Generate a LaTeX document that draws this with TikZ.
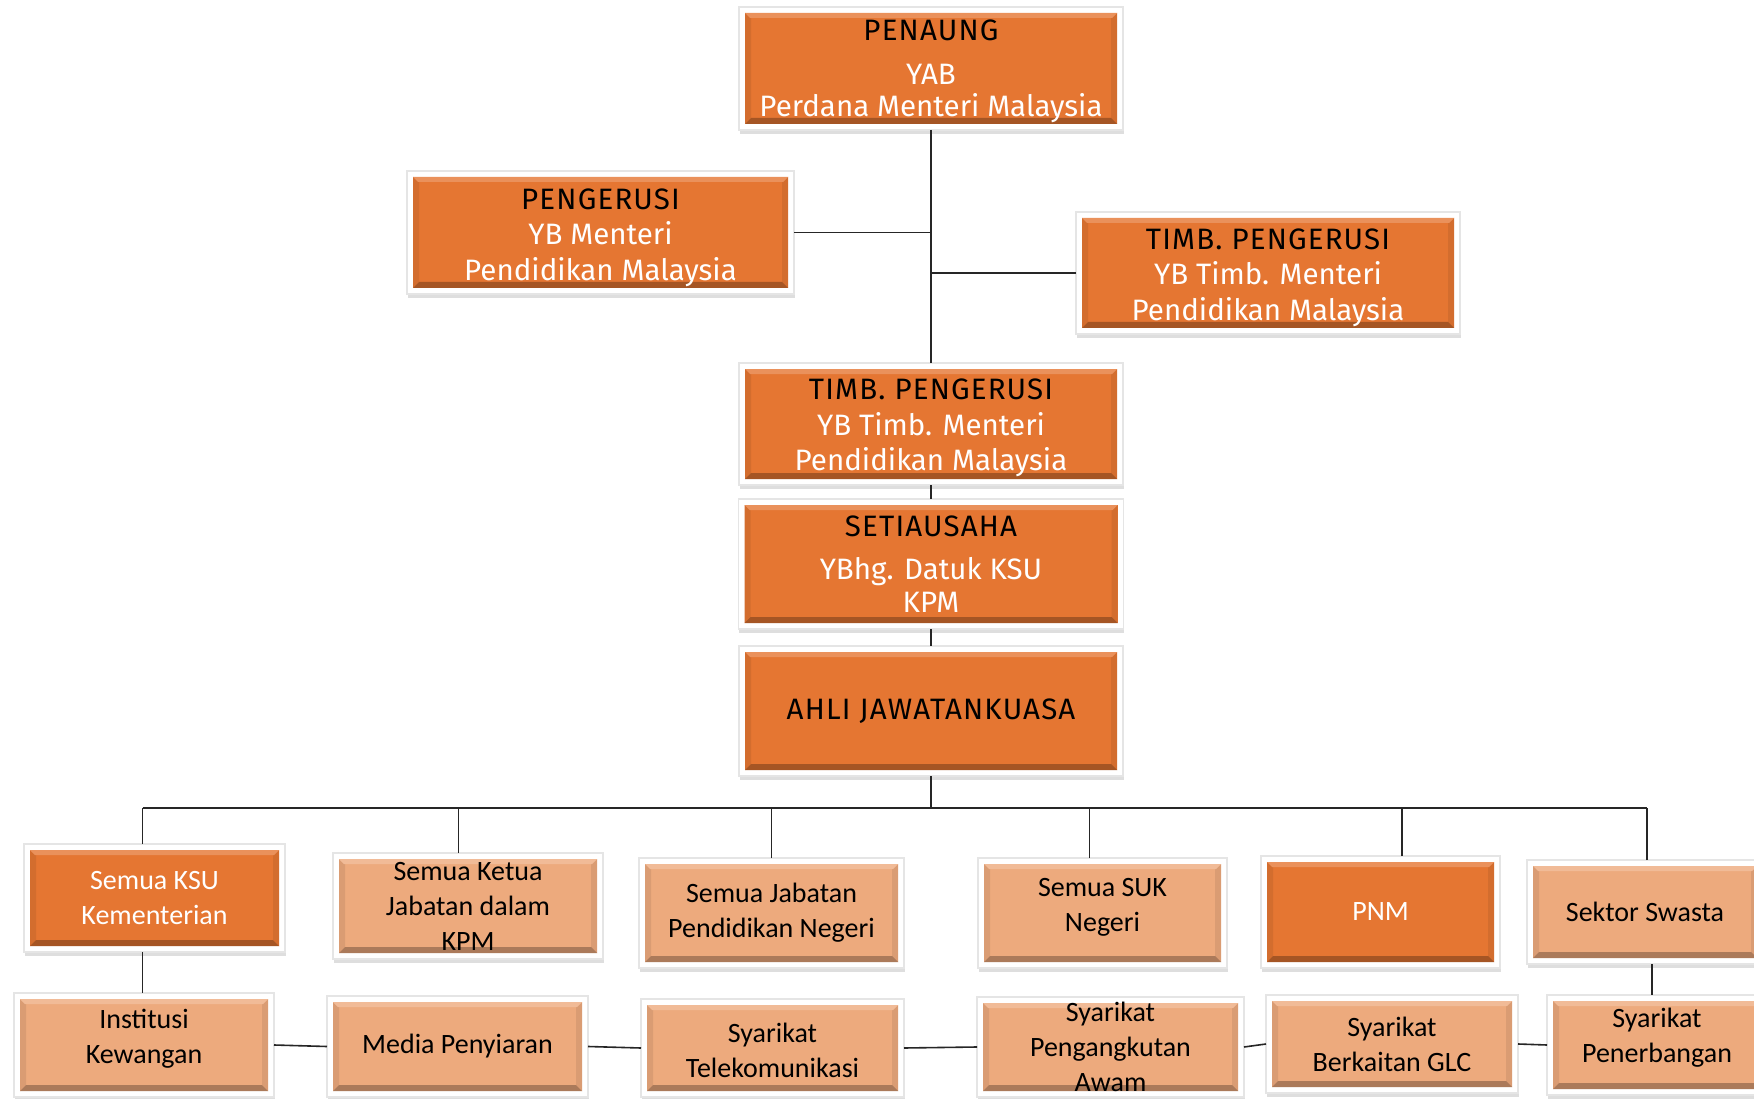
\documentclass[tikz,border=0pt]{standalone}
\usepackage{fontspec}
\newfontfamily\dinfont{Fira Sans}
\newfontfamily\dincaps[LetterSpace=4]{Fira Sans}
\newfontfamily\calfont{Carlito}
\usetikzlibrary{shadows,calc}
\definecolor{dk}{HTML}{E57632}
\definecolor{lt}{HTML}{EDAA7D}
\tikzset{
  boxcol/.code={\colorlet{bxc}{#1}},
  box/.style={rectangle, inner sep=0pt, outer sep=0pt, fill=white, draw=black!10, line width=1.2pt,
    drop shadow={shadow xshift=0.5pt, shadow yshift=-4pt, opacity=0.18, fill=black!70},
    path picture={
      \coordinate (iSW) at ([shift={(6pt,6pt)}]path picture bounding box.south west);
      \coordinate (iNE) at ([shift={(-6pt,-6pt)}]path picture bounding box.north east);
      \coordinate (iNW) at (iSW|-iNE);
      \coordinate (iSE) at (iNE|-iSW);
      \fill[bxc] (iSW) rectangle (iNE);
      \fill[bxc!92!black] (iSW) -- ([shift={(6pt,6pt)}]iSW) -- ([shift={(6pt,-5pt)}]iNW) -- (iNW) -- cycle;
      \fill[bxc!92!black] (iSE) -- ([shift={(-6pt,6pt)}]iSE) -- ([shift={(-6pt,-5pt)}]iNE) -- (iNE) -- cycle;
      \fill[bxc!72!black] (iSW) -- (iSE) -- ([shift={(-6pt,6pt)}]iSE) -- ([shift={(6pt,6pt)}]iSW) -- cycle;
      \fill[bxc!80!white] (iNW) -- (iNE) -- ([shift={(-5pt,-5pt)}]iNE) -- ([shift={(5pt,-5pt)}]iNW) -- cycle;
    }},
  dkbox/.style={box, boxcol=dk},
  ltbox/.style={box, boxcol=lt},
  toptxt/.style={align=center, inner sep=0pt, text=white, font=\dinfont\fontsize{29.5}{35.5}\selectfont},
  bottxt/.style={align=center, inner sep=0pt, text=black, font=\calfont\fontsize{28}{35}\selectfont},
  conn/.style={draw=black!85, line width=1.6pt},
}
\newcommand\ttl[1]{\textcolor{black}{\dincaps #1}}
\begin{document}
\begin{tikzpicture}[x=1pt,y=-1pt]
\useasboundingbox[fill=white] (0,0) rectangle (1754,1099);

% top column
\node[dkbox, minimum width=384pt, minimum height=123pt] (penaung) at (931,68.5) {};
\node[dkbox, minimum width=387pt, minimum height=123pt] (peng) at (600.5,232.5) {};
\node[dkbox, minimum width=384pt, minimum height=122pt] (timbr) at (1268,273) {};
\node[dkbox, minimum width=384pt, minimum height=122pt] (timbc) at (931,424) {};
\node[dkbox, minimum width=385pt, minimum height=130pt] (setia) at (931,564) {};
\node[dkbox, minimum width=384pt, minimum height=130pt] (ahli) at (931,711) {};

% row 1
\node[dkbox, minimum width=261pt, minimum height=108pt] (ksu) at (154.5,898) {};
\node[ltbox, minimum width=270pt, minimum height=106pt] (ketua) at (468,906) {};
\node[ltbox, minimum width=265pt, minimum height=110pt] (jab) at (771.5,913) {};
\node[ltbox, minimum width=249pt, minimum height=110pt] (suk) at (1102.5,913) {};
\node[dkbox, minimum width=239pt, minimum height=112pt] (pnm) at (1380.5,912) {};
\node[ltbox, minimum width=236pt, minimum height=104pt] (swasta) at (1645,912) {};

% row 2
\node[ltbox, minimum width=260pt, minimum height=104pt] (inst) at (144,1045) {};
\node[ltbox, minimum width=261pt, minimum height=101pt] (media) at (457.5,1046.5) {};
\node[ltbox, minimum width=263pt, minimum height=98pt] (tel) at (772.5,1048) {};
\node[ltbox, minimum width=267pt, minimum height=100pt] (angkut) at (1110.5,1047) {};
\node[ltbox, minimum width=252pt, minimum height=98pt] (glc) at (1392,1044) {};
\node[ltbox, minimum width=220pt, minimum height=100pt] (terbang) at (1657,1045) {};

% texts
\node[toptxt, yshift=-3pt] (tpenaung) at (penaung) {\ttl{PENAUNG}\\[8pt]YAB\\[-3pt]Perdana Menteri Malaysia};
\node[toptxt, yshift=-5pt] (tpeng) at (peng) {\ttl{PENGERUSI}\\YB Menteri\\Pendidikan Malaysia};
\node[toptxt, yshift=-4.5pt] (ttimbr) at (timbr) {\ttl{TIMB. PENGERUSI}\\YB Timb. Menteri\\Pendidikan Malaysia};
\node[toptxt, yshift=-4pt] (ttimbc) at (timbc) {\ttl{TIMB. PENGERUSI}\\YB Timb. Menteri\\Pendidikan Malaysia};
\node[toptxt] (tsetia) at (setia) {\ttl{SETIAUSAHA}\\[8pt]YBhg. Datuk KSU\\[-3pt]KPM};
\node[toptxt] (tahli) at (ahli) {\ttl{AHLI JAWATANKUASA}};

\node[bottxt, text=white] (tksu) at (ksu) {Semua KSU\\Kementerian};
\node[bottxt] (tketua) at (ketua) {Semua Ketua\\Jabatan dalam\\KPM};
\node[bottxt] (tjab) at (jab) {Semua Jabatan\\Pendidikan Negeri};
\node[bottxt, yshift=6pt] (tsuk) at (suk) {Semua SUK\\Negeri};
\node[bottxt, text=white] (tpnm) at (pnm) {PNM};
\node[bottxt] (tswasta) at (swasta) {Sektor Swasta};

\node[bottxt, yshift=6pt] (tinst) at (inst) {Institusi\\Kewangan};
\node[bottxt] (tmedia) at (media) {Media Penyiaran};
\node[bottxt, yshift=-2pt] (ttel) at (tel) {Syarikat\\Telekomunikasi};
\node[bottxt] (tangkut) at (angkut) {Syarikat\\Pengangkutan\\Awam};
\node[bottxt] (tglc) at (glc) {Syarikat\\Berkaitan GLC};
\node[bottxt, yshift=7pt] (tterbang) at (terbang) {Syarikat\\Penerbangan};

% connectors
\draw[conn] (penaung.south) -- (timbc.north);
\draw[conn] (peng.east) -- (peng.east -| penaung.south);
\draw[conn] (timbr.west) -- (timbr.west -| penaung.south);
\draw[conn] (timbc.south) -- (setia.north);
\draw[conn] (setia.south) -- (ahli.north);
\coordinate (bus) at (931,808);
\draw[conn] (ahli.south) -- (bus);
\coordinate (dksu) at ([xshift=-12pt]ksu.north);
\coordinate (dketua) at ([xshift=-9.5pt]ketua.north);
\coordinate (djab) at (jab.north);
\coordinate (dsuk) at ([xshift=-13pt]suk.north);
\coordinate (dpnm) at ([xshift=21.5pt]pnm.north);
\coordinate (dswasta) at ([xshift=2pt]swasta.north);
\draw[conn] (dksu |- bus) -- (dswasta |- bus);
\foreach \d in {dksu,dketua,djab,dsuk,dpnm,dswasta}{
  \draw[conn] (\d) -- (\d |- bus);
}
\coordinate (uksu) at ([xshift=-12pt]ksu.south);
\draw[conn] (uksu) -- (uksu |- inst.north);
\coordinate (uswasta) at ([xshift=7pt]swasta.south);
\draw[conn] (uswasta) -- (uswasta |- terbang.north);
\draw[conn] (inst.east) -- (media.west);
\draw[conn] (media.east) -- (tel.west);
\draw[conn] (tel.east) -- (angkut.west);
\draw[conn] (angkut.east) -- (glc.west);
\draw[conn] (glc.east) -- (terbang.west);
\end{tikzpicture}
\end{document}
